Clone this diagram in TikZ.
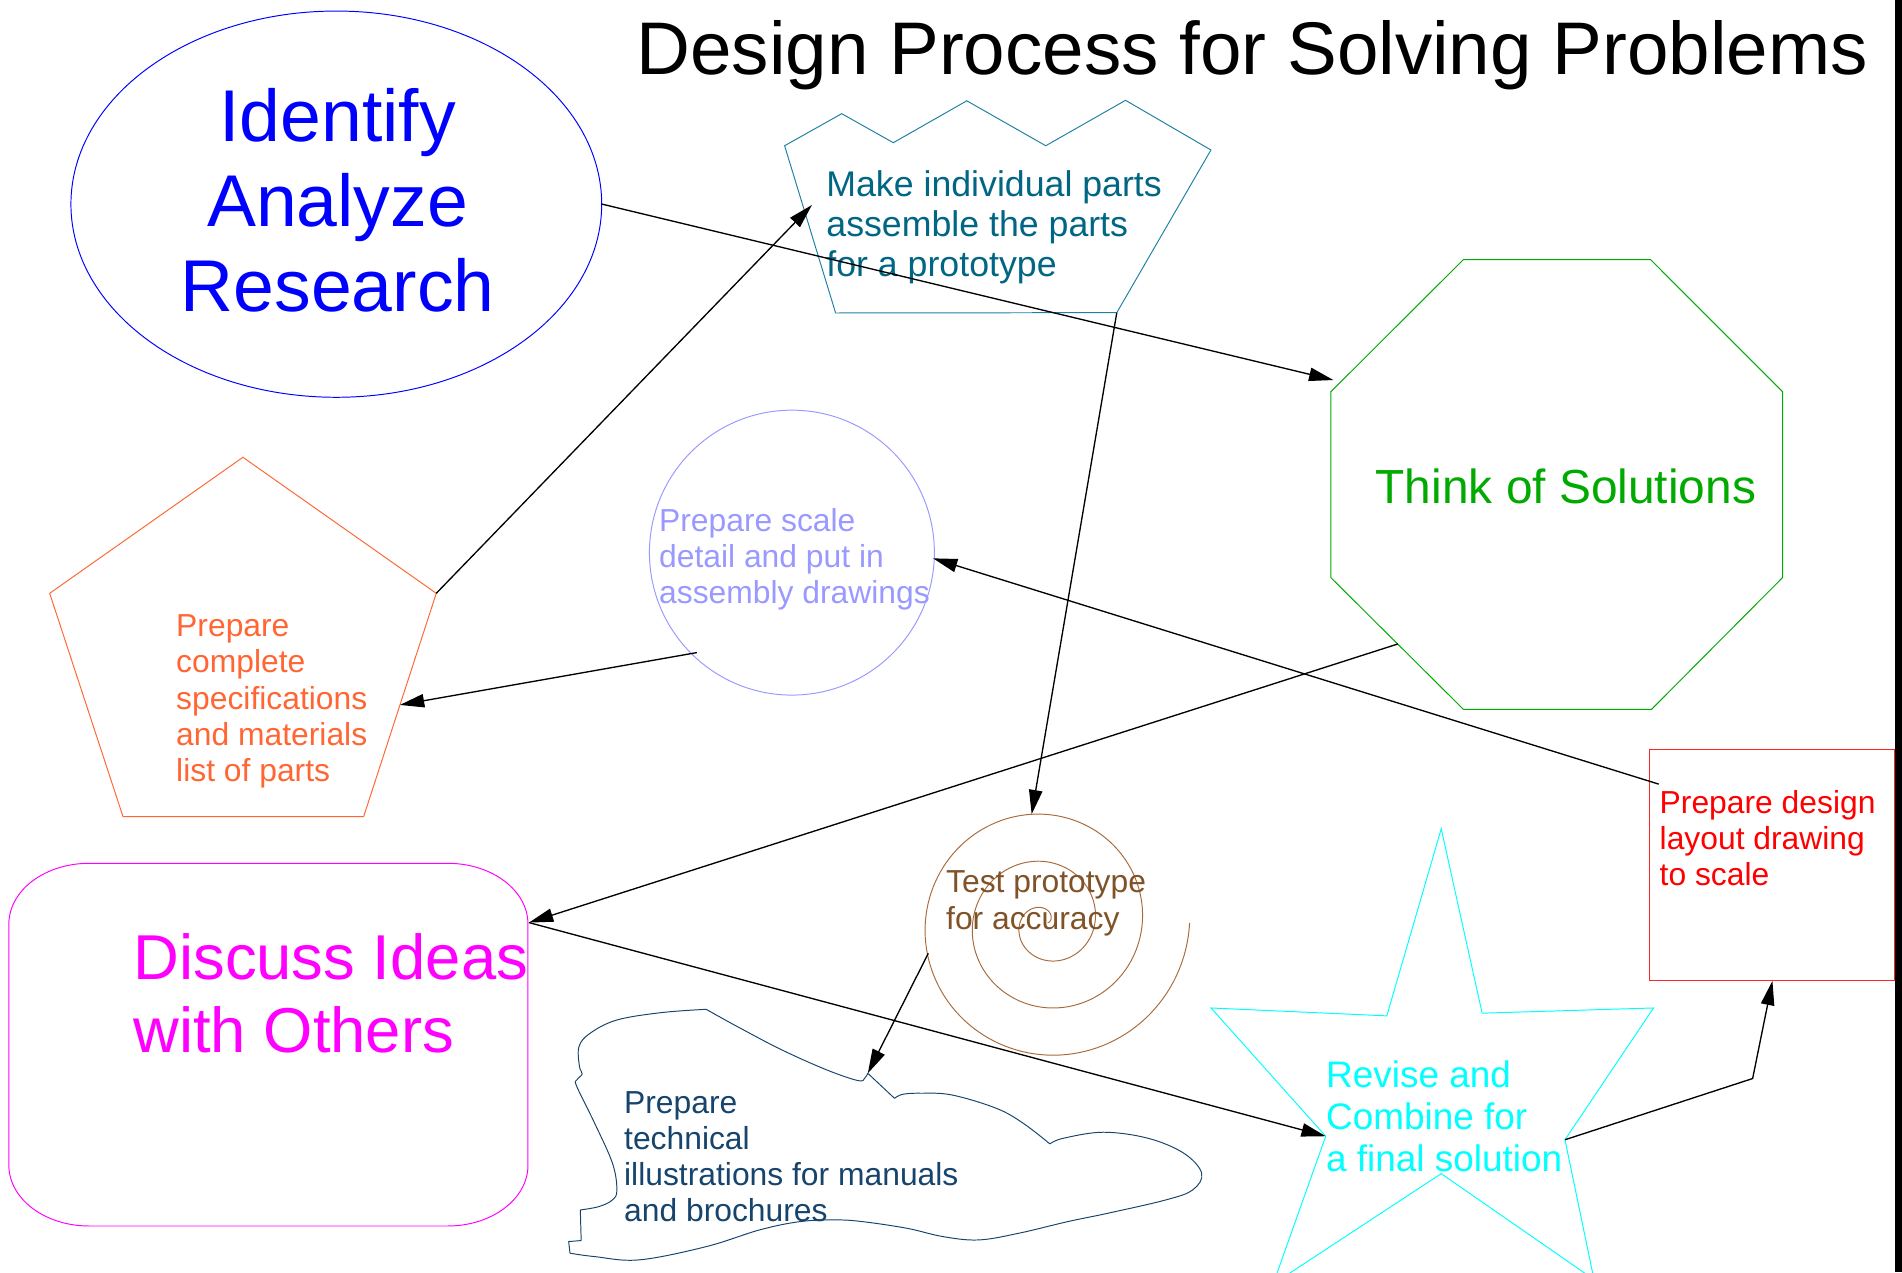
\documentclass[tikz,border=0pt]{standalone}
\usepackage{fontspec}
\setmainfont{Liberation Sans}
\usetikzlibrary{arrows.meta}
\definecolor{tealtxt}{RGB}{0,102,132}
\definecolor{tealline}{RGB}{32,128,164}
\definecolor{orng}{RGB}{255,102,51}
\definecolor{lav}{RGB}{153,153,255}
\definecolor{grn}{RGB}{0,170,0}
\definecolor{brwntxt}{RGB}{128,82,40}
\definecolor{brwnline}{RGB}{168,108,60}
\definecolor{cloudblue}{RGB}{22,68,108}
\definecolor{mag}{RGB}{255,0,255}
\definecolor{cyn}{RGB}{0,255,255}
\definecolor{rd}{RGB}{255,0,0}
\definecolor{bl}{RGB}{0,0,255}

\begin{document}
\begin{tikzpicture}[x=0.5pt,y=-0.5pt,
  shp/.style={line width=0.4pt},
  txt/.style={inner sep=0pt,anchor=base west,align=left},
  small/.style={font=\fontsize{13.1}{14.9}\selectfont},
  con/.style={line width=0.55pt,-{Triangle[length=10pt,width=5.5pt]}}]
\useasboundingbox (0,0) rectangle (1566,1047.5);
\clip (0,0) rectangle (1566,1047.5);
\fill (1560.5,0) rectangle (1566,1047.5);

\draw[shp,bl] (276.9,168.1) ellipse [x radius=218.5,y radius=159];
\draw[shp,tealline] (646,120) -- (693,93.6) -- (735.5,117.5) -- (796,83) -- (861,120)
  -- (926.7,82.6) -- (997,123.5) -- (919.5,257.4) -- (688,257.7) -- cycle;
\draw[shp,orng] (200,376.5) -- (359.2,488.5) -- (299.4,672.4) -- (101.3,672.4) -- (40.9,488.5) -- cycle;
\draw[shp,lav] (652,455) circle [radius=117.3];
\draw[shp,grn] (1204.8,213.8) -- (1359,213.8) -- (1467.6,322.5) -- (1467.6,475.6)
  -- (1359.8,584) -- (1204.8,584) -- (1095.8,475.6) -- (1095.8,322.5) -- cycle;
\draw[shp,rd!85] (1358.2,616.8) rectangle (1560,807.6);
\draw[shp,cyn] (1186.6,682.4) -- (1220.3,834.2) -- (1361.4,829.9) -- (1288.5,938.4) -- (1312.4,1053.5)
  -- (1186.6,966.3) -- (1048.2,1057.2) -- (1091.5,935.5) -- (997.1,829.9) -- (1141.8,836.4) -- cycle;
\draw[shp,mag] (73.3,710.8) -- (368.7,710.8) arc[start angle=-90,end angle=0,x radius=66,y radius=50]
  -- (434.7,959.4) arc[start angle=0,end angle=90,x radius=66,y radius=50]
  -- (73.3,1009.4) arc[start angle=90,end angle=180,x radius=66,y radius=50]
  -- (7.3,760.8) arc[start angle=180,end angle=270,x radius=66,y radius=50];
\draw[shp,brwnline] plot[domain=0:1080,samples=400,variable=\t]
  ({860.9+(1.646+0.10824*\t)*cos(\t)},{759.8-(1.646+0.10824*\t)*sin(\t)});
\draw[shp,cloudblue,line join=round]
  plot[smooth,tension=0.6] coordinates {(581.4,831) (607.2,845.3) (643.9,864.5) (680.7,880.9) (706.4,889.7) (711.9,887.8) (714.5,883.7)}
  -- (736.5,904.3)
  plot[smooth,tension=0.6] coordinates {(736.5,904.3) (743.1,901) (757.8,900.1) (783.6,901.5) (820.3,912.5) (842.4,924.8) (864.4,941.8)}
  plot[smooth,tension=0.6] coordinates {(864.4,941.8) (875.4,937.2) (908.5,932.2) (945.3,937.2) (974.7,949.5) (989.4,966) (982,979.7)
    (960,987.9) (912.2,998.9) (879.1,1005.8) (838.7,1015.4) (805.6,1020.9) (776.2,1018.1) (746.8,1011.3) (710.1,1005.8)
    (688,1004.4) (658.6,1005.8) (625.5,1012.6) (581.4,1026.4) (526.3,1037.3) (489.6,1034.6) (469.3,1031.8)}
  -- (468.2,1022.2) -- (478.5,1021.4) -- (477.8,996.2)
  plot[smooth,tension=0.6] coordinates {(477.8,996.2) (493.2,993.4) (504.3,987.9) (507.9,979.7) (504.3,957.8) (489.6,924.8)
    (474.9,894.6) (474.9,889.2) (479.3,884.2) (477.1,878.2) (476.7,861.7) (485.9,850.7) (507.9,839.8) (544.7,833.7) (581.4,831)};

\node[txt,font=\fontsize{30.7}{35}\selectfont] (ttl) at (523.8,61.7) {Design Process for Solving Problems};
\node[inner sep=0pt,anchor=base,align=center,text=bl,font=\fontsize{30.2}{35}\selectfont] (idr) at (278,256.6) {Identify\\Analyze\\Research};
\node[txt,text=tealtxt,font=\fontsize{14.7}{16.5}\selectfont] (mk) at (680,227.8) {Make individual parts\\assemble the parts\\for a prototype};
\node[txt,small,text=orng] (spec) at (144.7,643.5) {Prepare\\complete\\specifications\\and materials\\list of parts};
\node[txt,small,text=lav,font=\fontsize{13.1}{14.75}\selectfont] (det) at (542.3,496.7) {Prepare scale\\detail and put in\\assembly drawings};
\node[txt,text=grn,font=\fontsize{19.7}{22.6}\selectfont] (th) at (1132.3,414.4) {Think of Solutions};
\node[txt,small,text=rd,font=\fontsize{13.1}{15}\selectfont] (lay) at (1366.1,729.4) {Prepare design\\layout drawing\\to scale};
\node[txt,text=cyn,font=\fontsize{15.2}{17.4}\selectfont] (rev) at (1091.5,964.6) {Revise and\\Combine for\\a final solution};
\node[txt,small,text=brwntxt,font=\fontsize{13.1}{15.1}\selectfont] (tst) at (778.6,765.1) {Test prototype\\for accuracy};
\node[txt,small,text=cloudblue] (ill) at (513.5,1005.8) {Prepare\\technical\\illustrations for manuals\\and brochures};
\node[txt,text=mag,font=\fontsize{26.1}{30}\selectfont] (dis) at (109.5,866.7) {Discuss Ideas\\with Others};

\coordinate (idr-e) at (495.4,168);
\coordinate (th-nw) at (1097.8,312.9);
\coordinate (spec-ne) at (359.2,488.5);
\coordinate (mk-w) at (668.5,168.8);
\coordinate (det-sw) at (573.8,537.3);
\coordinate (spec-e) at (329.3,580.4);
\coordinate (mk-se) at (919.5,257.4);
\coordinate (tst-n) at (849.4,670.4);
\coordinate (th-sw) at (1150.9,530.2);
\coordinate (dis-ne) at (435.5,759.6);
\coordinate (rev-w) at (1091.5,935.5);
\coordinate (lay-w) at (1365.7,645.6);
\coordinate (det-e) at (768.2,459.7);
\coordinate (tst-w) at (764.3,784.9);
\coordinate (ill-n) at (714.5,883.7);
\coordinate (rev-e) at (1288.5,938.4);
\coordinate (bnd) at (1443,888);
\coordinate (lay-s) at (1459.3,807.6);

\draw[con] (idr-e) -- (th-nw);
\draw[con] (spec-ne) -- (mk-w);
\draw[con] (det-sw) -- (spec-e);
\draw[con] (mk-se) -- (tst-n);
\draw[con] (th-sw) -- (dis-ne);
\draw[con] (dis-ne) -- (rev-w);
\draw[con] (lay-w) -- (det-e);
\draw[con] (tst-w) -- (ill-n);
\draw[con] (rev-e) -- (bnd) -- (lay-s);
\end{tikzpicture}
\end{document}
